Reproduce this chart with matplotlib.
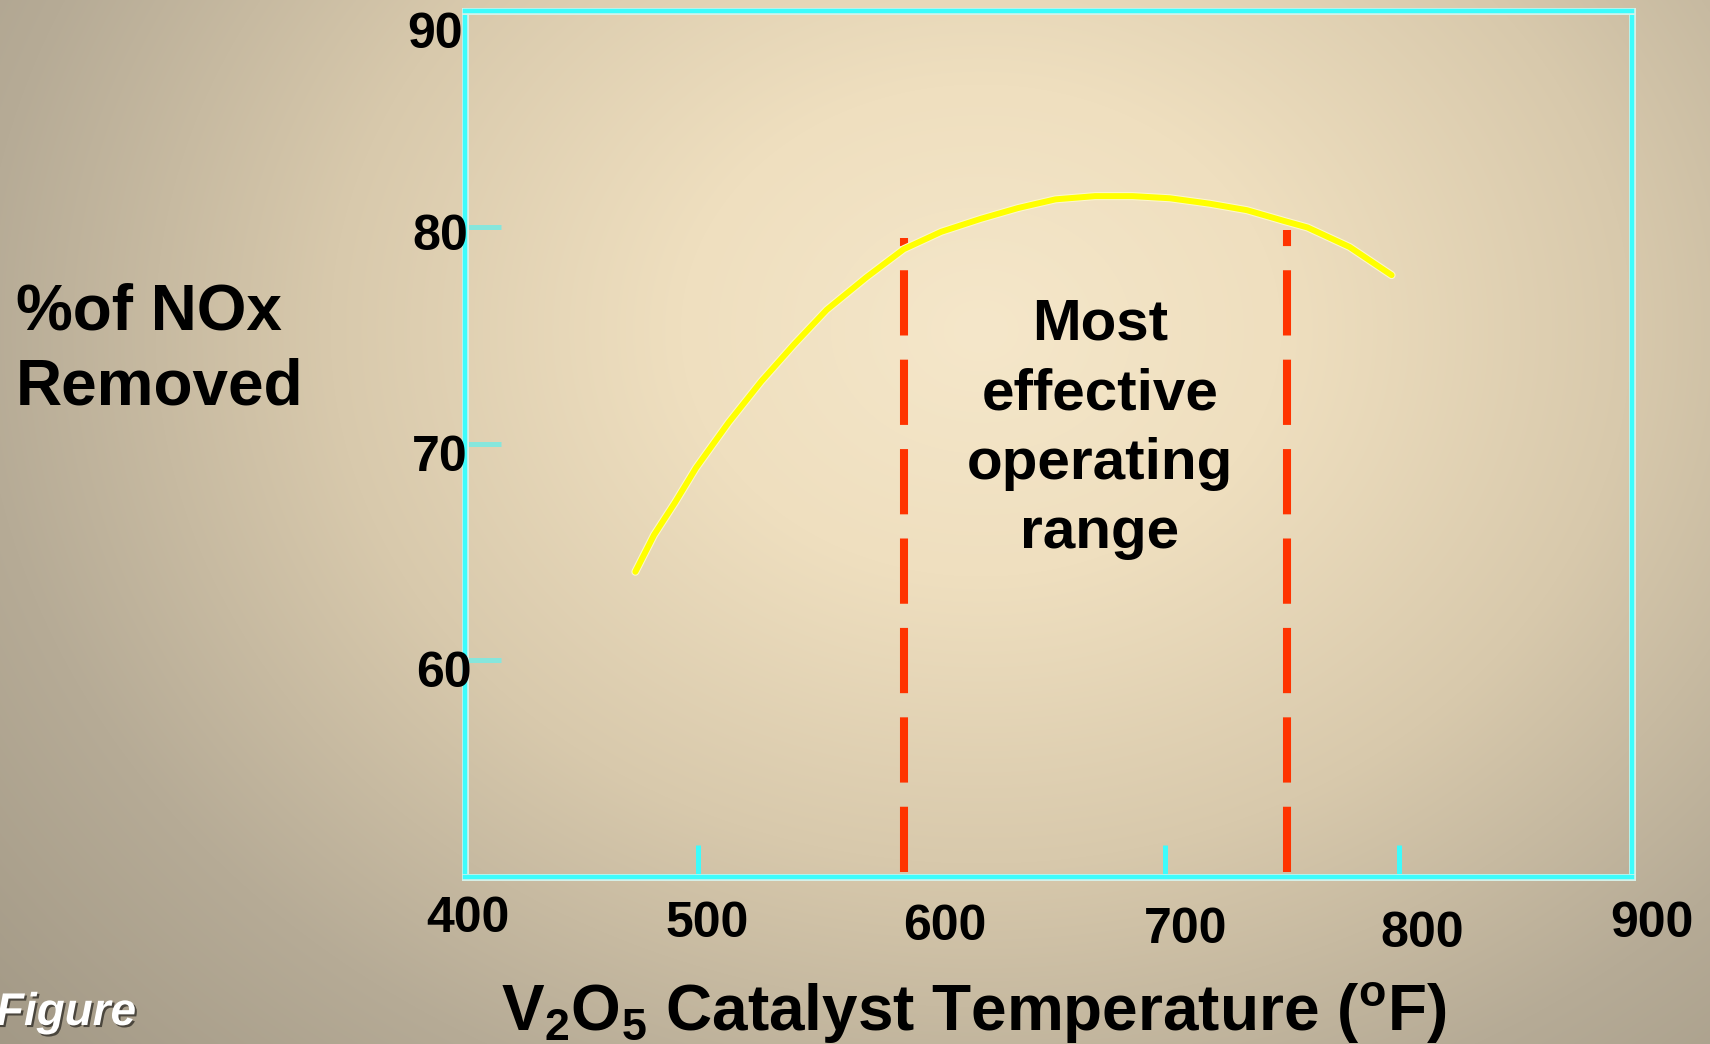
import numpy as np
import matplotlib
matplotlib.use("Agg")
import matplotlib.pyplot as plt
import matplotlib.patheffects as pe
from matplotlib.transforms import offset_copy
from matplotlib.colors import to_rgb

plt.rcParams['font.family'] = ['Liberation Sans', 'DejaVu Sans']
plt.rcParams['mathtext.fontset'] = 'custom'
plt.rcParams['mathtext.rm'] = 'Liberation Sans:bold'
plt.rcParams['mathtext.bf'] = 'Liberation Sans:bold'
plt.rcParams['mathtext.it'] = 'Liberation Sans:bold'

# NOx removal vs. V2O5 catalyst temperature
temp_f = [473, 481, 490, 499, 513, 527, 541, 555, 572, 588, 604, 621, 637,
          653, 670, 686, 702, 719, 735, 751, 761, 779, 797]
nox_removed = [64.1, 65.8, 67.3, 68.9, 71.0, 72.9, 74.6, 76.2, 77.7, 79.0, 79.8, 80.4, 80.9,
               81.3, 81.45, 81.45, 81.35, 81.1, 80.8, 80.3, 80.0, 79.1, 77.8]

# Bounds of the most effective operating range
range_temps = [588, 752]
range_tops = [79.5, 79.9]

x_ticks = [400, 500, 600, 700, 800, 900]
x_tick_marks = [500, 700, 800]
y_ticks = [60, 70, 80, 90]
y_tick_marks = [60, 70, 80]

W, H, DPI = 1710, 1044, 100
fig = plt.figure(figsize=(W / DPI, H / DPI), dpi=DPI)

# radial background shading
bg = fig.add_axes([0, 0, 1, 1], zorder=-10)
yy, xx = np.mgrid[0:H, 0:W]
r = np.sqrt(((xx - 980) / 1000.0) ** 2 + ((yy - 330) / 820.0) ** 2)
stops_r = [0.0, 0.3, 0.65, 1.0, 1.45]
stops_c = [to_rgb(c) for c in ['#f5e7ca', '#efdfbf', '#d8c9ac', '#b6ab96', '#9a917f']]
img = np.zeros((H, W, 3))
for ch in range(3):
    img[..., ch] = np.interp(r, stops_r, [c[ch] for c in stops_c])
bg.imshow(img, aspect='auto', extent=[0, 1, 0, 1], origin='upper')
bg.set_axis_off()

ax = fig.add_axes([465 / W, 1 - 877 / H, (1632 - 465) / W, (877 - 11) / H])
ax.set_facecolor('none')
ax.set_xlim(400, 900)
ax.set_ylim(50, 90)

cyan = '#3dfcfc'
halo = '#d6f2ea'
for s in ax.spines.values():
    s.set_color(cyan)
    s.set_linewidth(3.2)
    s.set_path_effects([pe.Stroke(linewidth=5.0, foreground=halo), pe.Normal()])

ax.set_xticks(x_tick_marks)
ax.set_yticks(y_tick_marks)
ax.tick_params(axis='x', direction='in', length=23, width=3.6, color=cyan, labelbottom=False)
ax.tick_params(axis='y', direction='in', length=26, width=3.6, color='#86e6dc', labelleft=False)

# yellow response curve
ax.plot(temp_f, nox_removed, color='#ffff00', lw=4.3, solid_joinstyle='round',
        solid_capstyle='round', zorder=3,
        path_effects=[pe.Stroke(linewidth=5.8, foreground='#fcf7cc'), pe.Normal()])

# dashed bounds of the operating range
for xv, top in zip(range_temps, range_tops):
    ax.plot([xv, xv], [50.25, top], color='#ff3300', lw=5.8,
            dashes=(8.1, 3.0), solid_capstyle='butt', dash_capstyle='butt', zorder=2)

ax.text(672, 70.7, 'Most\neffective\noperating\nrange', ha='center', va='center',
        fontsize=42, fontweight='bold', color='black', linespacing=1.37)

# tick labels
px = 72.0 / DPI
x_off = [(3, -42), (9, -47), (13, -50), (20, -53), (24, -57), (20, -47)]
for v, (dx, dy) in zip(x_ticks, x_off):
    tr = offset_copy(ax.get_xaxis_transform(), fig=fig, x=dx * px, y=dy * px, units='points')
    ax.text(v, 0, str(v), transform=tr, ha='center', va='center',
            fontsize=36, fontweight='bold', clip_on=False)

y_off = [(7, -14), (2, -14), (3, -10), (-2, -24)]
for v, (dx, dy) in zip(y_ticks, y_off):
    tr = offset_copy(ax.get_yaxis_transform(), fig=fig, x=dx * px, y=dy * px, units='points')
    ax.text(0, v, str(v), transform=tr, ha='right', va='center',
            fontsize=36, fontweight='bold', clip_on=False)

fig.text(16 / W, 1 - 350 / H, '%of NOx\nRemoved', ha='left', va='center',
         fontsize=46, fontweight='bold', linespacing=1.31)

fig.text(974 / W, 1 - 1031 / H,
         r'V$_{\mathbf{2}}$O$_{\mathbf{5}}$ Catalyst Temperature ($^{\mathbf{o}}$F)',
         ha='center', va='baseline', fontsize=46, fontweight='bold')

fig.text(-4 / W, 1 - 1025 / H, 'Figure', ha='left', va='baseline', fontsize=33,
         fontweight='bold', style='italic', color='white',
         path_effects=[pe.withSimplePatchShadow(offset=(1.5, -1.5), shadow_rgbFace='black', alpha=0.55)])

fig.savefig('out.png', dpi=DPI)
